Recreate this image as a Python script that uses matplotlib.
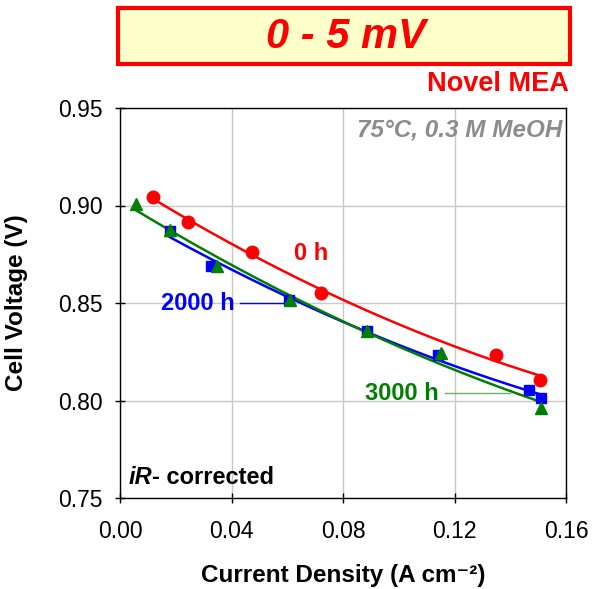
import numpy as np
import matplotlib.pyplot as plt
from matplotlib.patches import Rectangle

plt.rcParams['font.family'] = ['Liberation Sans', 'DejaVu Sans']

# 0 h
x0 = [0.0118, 0.0244, 0.0474, 0.0721, 0.1349, 0.1507]
y0 = [0.9044, 0.8915, 0.8760, 0.8550, 0.8233, 0.8105]
# 2000 h
x2 = [0.0179, 0.0326, 0.0606, 0.0886, 0.1141, 0.1467, 0.1510]
y2 = [0.8869, 0.8690, 0.8515, 0.8356, 0.8233, 0.8054, 0.8013]
# 3000 h
x3 = [0.0057, 0.0179, 0.0348, 0.0610, 0.0886, 0.1152, 0.1510]
y3 = [0.9008, 0.8874, 0.8690, 0.8515, 0.8356, 0.8244, 0.7962]

xticks = [0.00, 0.04, 0.08, 0.12, 0.16]
yticks = [0.75, 0.80, 0.85, 0.90, 0.95]

fig = plt.figure(figsize=(5.97, 5.89), dpi=100)
ax = fig.add_axes([120/597, 1-498/589, 446/597, 390/589])

def trend(x, y, c):
    p = np.polyfit(x, y, 2)
    xx = np.linspace(min(x), max(x), 200)
    ax.plot(xx, np.polyval(p, xx), color=c, lw=1.8, zorder=3)

trend(x0, y0, 'red')
trend(x2, y2, 'blue')
trend(x3, y3, 'green')
ax.plot(x0, y0, 'o', color='red', ms=9, zorder=4)
ax.plot(x2, y2, 's', color='blue', ms=7.5, zorder=4)
ax.plot(x3, y3, '^', color='green', ms=9, zorder=5)

ax.set_xlim(0, 0.16)
ax.set_ylim(0.75, 0.95)
ax.set_xticks(xticks)
ax.set_yticks(yticks)
ax.set_xticklabels(['%.2f' % v for v in xticks])
ax.set_yticklabels(['%.2f' % v for v in yticks])
ax.tick_params(labelsize=16.5, direction='inout', length=7, width=1)
ax.tick_params(axis='x', pad=12)
ax.tick_params(axis='y', pad=9)
ax.grid(True, color='#c8c8c8', lw=1)
ax.set_axisbelow(True)
for s in ax.spines.values():
    s.set_linewidth(1)

ax.set_xlabel('Current Density (A cm⁻²)', fontsize=17.5, fontweight='bold')
ax.set_ylabel('Cell Voltage (V)', fontsize=17.5, fontweight='bold')
ax.xaxis.set_label_coords(0.5, -0.168)
ax.yaxis.set_label_coords(-0.207, 0.5)

ax.text(0.0685, 0.8756, '0 h', color='red', fontsize=17, fontweight='bold', ha='center', va='center')
ax.text(0.028, 0.85, '2000 h', color='blue', fontsize=17, fontweight='bold', ha='center', va='center')
ax.plot([0.043, 0.061], [0.85, 0.85], color='blue', lw=1)
ax.text(0.1012, 0.8038, '3000 h', color='green', fontsize=17, fontweight='bold', ha='center', va='center')
ax.plot([0.1166, 0.14], [0.8038, 0.8038], color='#66b366', lw=1)

ax.text(0.1586, 0.9387, '75°C, 0.3 M MeOH', color='#8c8c8c', fontsize=17.5,
        fontweight='bold', fontstyle='italic', ha='right', va='center')
t1 = ax.text(0.0030, 0.7603, 'iR', fontsize=17, fontweight='bold', fontstyle='italic',
             ha='left', va='center')
ax.annotate('- corrected', xy=(1, 0.5), xycoords=t1, fontsize=17, fontweight='bold',
            ha='left', va='center')

fig.patches.append(Rectangle((118/597, 1-64/589), 452/597, 56/589, transform=fig.transFigure,
                             facecolor='#ffffcc', edgecolor='red', lw=3, zorder=0))
fig.text(346/597, 1-37/589, '0 - 5 mV', color='red', fontsize=30, fontweight='bold',
         fontstyle='italic', ha='center', va='center')
fig.text(569/597, 1-84/589, 'Novel MEA', color='red', fontsize=19.5, fontweight='bold',
         ha='right', va='center')

fig.savefig('out.png', dpi=100)
